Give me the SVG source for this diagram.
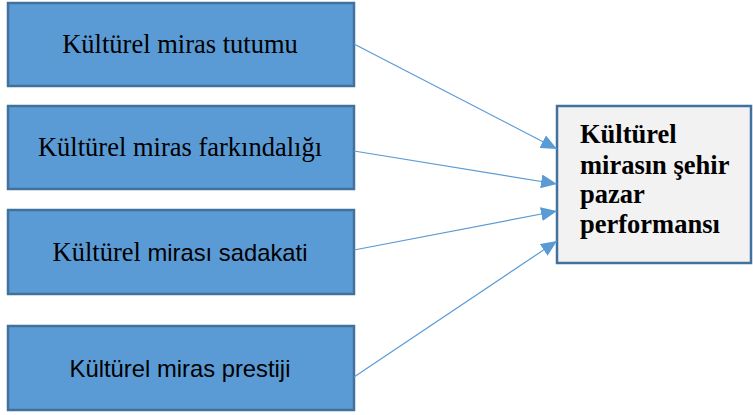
<svg xmlns="http://www.w3.org/2000/svg" width="753" height="415" viewBox="0 0 753 415">
<style>
.src rect{fill:#5B9BD5;stroke:#41719C;stroke-width:2.5}
.tgt rect{fill:#F2F2F2;stroke:#41719C;stroke-width:2.5}
.serif{font-family:"Liberation Serif","Times New Roman",serif;font-size:26.5px;fill:#000}
.sans{font-family:"Liberation Sans",Arial,sans-serif;font-size:23.8px;fill:#000}
.bold{font-family:"Liberation Serif","Times New Roman",serif;font-size:26.5px;font-weight:bold;fill:#000}
.conn line{stroke:#5B9BD5;stroke-width:1.2;fill:none}
</style>
<defs>
<marker id="ah" markerUnits="userSpaceOnUse" markerWidth="16" markerHeight="14" refX="16" refY="7" orient="auto">
<path d="M0,0 L16,7 L0,14 Z" fill="#5B9BD5"/>
</marker>
</defs>
<rect width="753" height="415" fill="#fff"/>
<g id="n1" class="src"><rect x="8" y="3" width="346" height="83"/><text class="serif" x="180" y="53" text-anchor="middle">Kültürel miras tutumu</text></g>
<g id="n2" class="src"><rect x="8" y="106" width="346" height="83"/><text class="serif" x="180" y="156" text-anchor="middle">Kültürel miras farkındalığı</text></g>
<g id="n3" class="src"><rect x="8" y="210" width="346" height="84"/><text x="180" y="261" text-anchor="middle"><tspan class="serif">Kültürel </tspan><tspan class="sans">mirası sadakati</tspan></text></g>
<g id="n4" class="src"><rect x="8" y="326" width="346" height="84"/><text class="sans" x="180" y="377" text-anchor="middle">Kültürel miras prestiji</text></g>
<g id="n5" class="tgt"><rect x="557" y="106" width="194" height="157"/>
<text class="bold" x="580" y="143">Kültürel</text>
<text class="bold" x="580" y="174">mirasın şehir</text>
<text class="bold" x="580" y="203">pazar</text>
<text class="bold" x="580" y="233">performansı</text></g>
<g id="connectors" class="conn">
<line x1="354" y1="44" x2="557" y2="149" marker-end="url(#ah)"/>
<line x1="354" y1="151" x2="557" y2="184" marker-end="url(#ah)"/>
<line x1="354" y1="250" x2="557" y2="211" marker-end="url(#ah)"/>
<line x1="354" y1="377" x2="557" y2="241" marker-end="url(#ah)"/>
</g>
</svg>
